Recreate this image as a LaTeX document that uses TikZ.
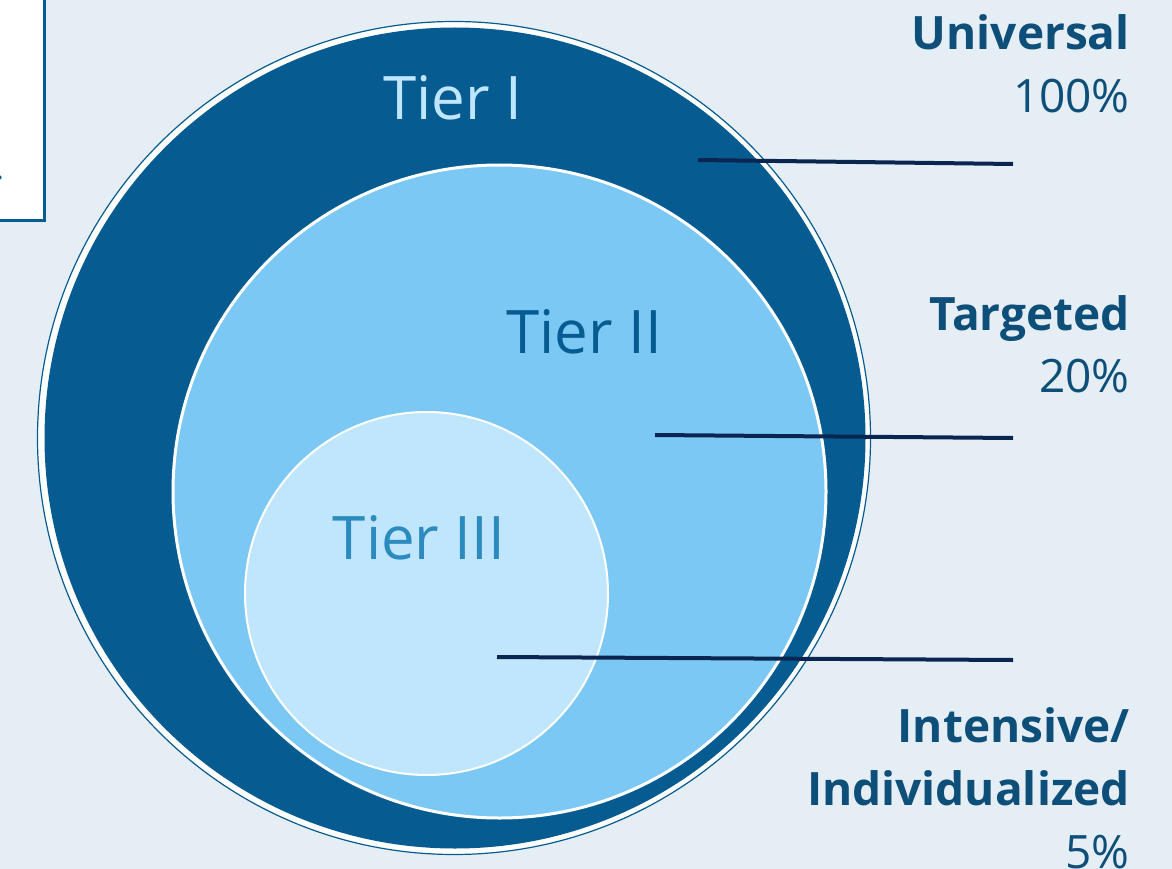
\documentclass[tikz,border=0pt]{standalone}
\usepackage{fontspec}
\setmainfont{Open Sans}
\usepackage{tikz}
\usetikzlibrary{shapes.geometric}
\definecolor{bgblue}{HTML}{E6EEF5}
\definecolor{tierone}{HTML}{065C91}
\definecolor{tiertwo}{HTML}{7CC8F5}
\definecolor{tierthree}{HTML}{BFE6FD}
\definecolor{tiertext}{HTML}{2B8BBF}
\definecolor{labelblue}{HTML}{0D4F78}
\definecolor{linenavy}{HTML}{0A2550}
\tikzstyle{ring} = [circle, inner sep=0pt, outer sep=0pt]
\tikzstyle{tiername} = [anchor=base, inner sep=0pt, font=\fontsize{60}{72}\selectfont]
\tikzstyle{label} = [anchor=base east, inner sep=0pt, text=labelblue, font=\fontsize{46}{60}\selectfont\bfseries]
\tikzstyle{percent} = [anchor=base east, inner sep=0pt, text=labelblue, font=\fontsize{46}{60}\selectfont]
\tikzstyle{pointer} = [line width=4pt, draw=linenavy]

\begin{document}
\begin{tikzpicture}[x=1pt, y=-1pt]

    % Background
    \useasboundingbox (0,0) rectangle (1172,869);
    \fill[bgblue] (0,0) rectangle (1172,869);
    \draw[tierone, line width=3pt, fill=white] (-10,-10) rectangle (44,220);
    \node (dot) [anchor=base east, inner sep=0pt, text=tierone, font=\fontsize{30}{36}\selectfont] at (4,180) {.};

    % Circles
    \node (outer) [ring, draw=tierone, line width=1.2pt, fill=white, minimum size=833pt] at (454,438) {};
    \node (tierI) [ring, fill=tierone, minimum size=821pt] at (455,438) {};
    \node (tierII) [ring, draw=white, line width=3pt, fill=tiertwo, minimum size=653pt] at (499.5,491.5) {};
    \node (tierIII) [ring, draw=white, line width=2pt, fill=tierthree, minimum size=363pt] at (426.5,593.5) {};

    % Tier names
    \node (nameI) [tiername, text=tierthree] at (453,120) {Tier I};
    \node (nameII) [tiername, text=tierone] at (584,353) {Tier II};
    \node (nameIII) [tiername, text=tiertext] at (419,559) {Tier III};

    % Labels
    \node (universal) [label] at (1130,50) {Universal};
    \node (universalPct) [percent] at (1130,113) {100\%};
    \node (targeted) [label] at (1130,330) {Targeted};
    \node (targetedPct) [percent] at (1130,392) {20\%};
    \node (intensive) [label] at (1130,742) {Intensive/};
    \node (individual) [label] at (1130,805) {Individualized};
    \node (intensivePct) [percent] at (1130,868) {5\%};

    % Lines
    \coordinate (startI) at (698,160);
    \coordinate (endI) at (1013,164);
    \coordinate (startII) at (655,435);
    \coordinate (endII) at (1013,438);
    \coordinate (startIII) at (497,657);
    \coordinate (endIII) at (1013,660);
    \draw [pointer] (startI) -- (endI);
    \draw [pointer] (startII) -- (endII);
    \draw [pointer] (startIII) -- (endIII);

\end{tikzpicture}
\end{document}
